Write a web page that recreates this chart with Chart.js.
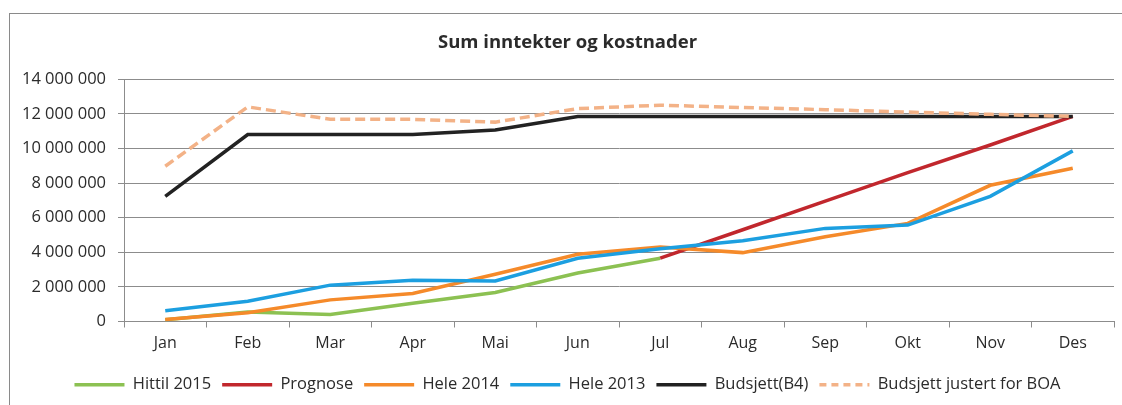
<!DOCTYPE html>
<html>
<head>
<meta charset="utf-8">
<script src="https://cdn.jsdelivr.net/npm/chart.js@4"></script>
<style>
  html, body { margin: 0; padding: 0; background: #fff; }
  #wrap { position: relative; width: 1122px; height: 405px; overflow: hidden; }
  #frame { position: absolute; left: 9px; top: 13px; width: 1200px; height: 500px;
           border-left: 1px solid #8a8a8a; border-top: 1px solid #8a8a8a; }
  canvas { position: absolute; left: 0; top: 0; }
</style>
</head>
<body>
<div id="wrap">
  <div id="frame"></div>
  <canvas id="chart" width="1122" height="405"></canvas>
</div>
<script>
var months = ["Jan", "Feb", "Mar", "Apr", "Mai", "Jun", "Jul", "Aug", "Sep", "Okt", "Nov", "Des"];

var hittil2015 = [100000, 550000, 410000, 1050000, 1680000, 2800000, 3660000, null, null, null, null, null];
var prognose = [null, null, null, null, null, null, 3660000, 5300000, 6950000, 8600000, 10200000, 11850000];
var hele2014 = [120000, 500000, 1250000, 1620000, 2730000, 3880000, 4300000, 3980000, 4900000, 5670000, 7870000, 8850000];
var hele2013 = [620000, 1170000, 2100000, 2380000, 2340000, 3650000, 4200000, 4660000, 5380000, 5570000, 7230000, 9860000];
var budsjett = [7230000, 10800000, 10800000, 10800000, 11070000, 11850000, 11850000, 11850000, 11850000, 11850000, 11850000, 11850000];
var budsjettBoa = [8970000, 12400000, 11680000, 11680000, 11520000, 12300000, 12500000, 12360000, 12240000, 12100000, 11970000, 11850000];

var yTicks = [0, 2000000, 4000000, 6000000, 8000000, 10000000, 12000000, 14000000];

var font = "'Open Sans', Lato, sans-serif";
var textColor = "#2b2b2b";
var gridColor = "#8c8c8c";

function line(label, data, color, order, dash) {
  return {
    label: label,
    data: data,
    borderColor: color,
    backgroundColor: color,
    borderWidth: 3.5,
    borderDash: dash || [],
    pointRadius: 0,
    pointStyle: "line",
    tension: 0,
    spanGaps: false,
    order: order
  };
}

function fmt(v) {
  return String(v).replace(/\B(?=(\d{3})+(?!\d))/g, "\u00a0");
}

new Chart(document.getElementById("chart"), {
  type: "line",
  data: {
    labels: months,
    datasets: [
      line("Hittil 2015", hittil2015, "#8cc152", 6),
      line("Prognose", prognose, "#c1272d", 5),
      line("Hele 2014", hele2014, "#f58a2a", 4),
      line("Hele 2013", hele2013, "#1c9fe0", 3),
      line("Budsjett(B4)", budsjett, "#222222", 2),
      line("Budsjett justert for BOA", budsjettBoa, "#f3b287", 1, [10, 5])
    ]
  },
  options: {
    responsive: false,
    animation: false,
    layout: { padding: { top: 20, right: 8, bottom: 2, left: 21 } },
    plugins: {
      title: {
        display: true,
        text: "Sum inntekter og kostnader",
        color: textColor,
        font: { family: font, size: 18.5, weight: "bold" },
        padding: { top: 12, bottom: 25 }
      },
      legend: {
        position: "bottom",
        labels: {
          color: textColor,
          font: { family: font, size: 16.5 },
          usePointStyle: true,
          pointStyle: "line",
          pointStyleWidth: 50,
          boxWidth: 50,
          padding: 11,
          sort: function (a, b) { return a.datasetIndex - b.datasetIndex; },
          generateLabels: function (chart) {
            var items = Chart.defaults.plugins.legend.labels.generateLabels(chart);
            items.forEach(function (item) {
              var ds = chart.data.datasets[item.datasetIndex];
              item.lineDash = ds.borderDash.length ? [7, 5] : [];
              item.lineWidth = 3.5;
              item.strokeStyle = ds.borderColor;
            });
            return items;
          }
        }
      },
      tooltip: { enabled: false }
    },
    scales: {
      x: {
        offset: true,
        afterFit: function (axis) { axis.height = 44; },
        grid: {
          offset: true,
          drawOnChartArea: false,
          drawTicks: true,
          tickLength: 6,
          color: gridColor
        },
        border: { display: true, color: gridColor },
        ticks: {
          color: textColor,
          font: { family: font, size: 16 },
          padding: 6,
          maxRotation: 0
        }
      },
      y: {
        min: 0,
        max: 14000000,
        afterBuildTicks: function (axis) {
          axis.ticks = yTicks.map(function (v) { return { value: v }; });
        },
        afterFit: function (axis) { axis.width = 103; },
        grid: { color: gridColor, tickLength: 6 },
        border: { display: true, color: gridColor },
        ticks: {
          color: textColor,
          font: { family: font, size: 16.5 },
          padding: 12,
          callback: function (v) { return fmt(v); }
        }
      }
    }
  }
});
</script>
</body>
</html>
